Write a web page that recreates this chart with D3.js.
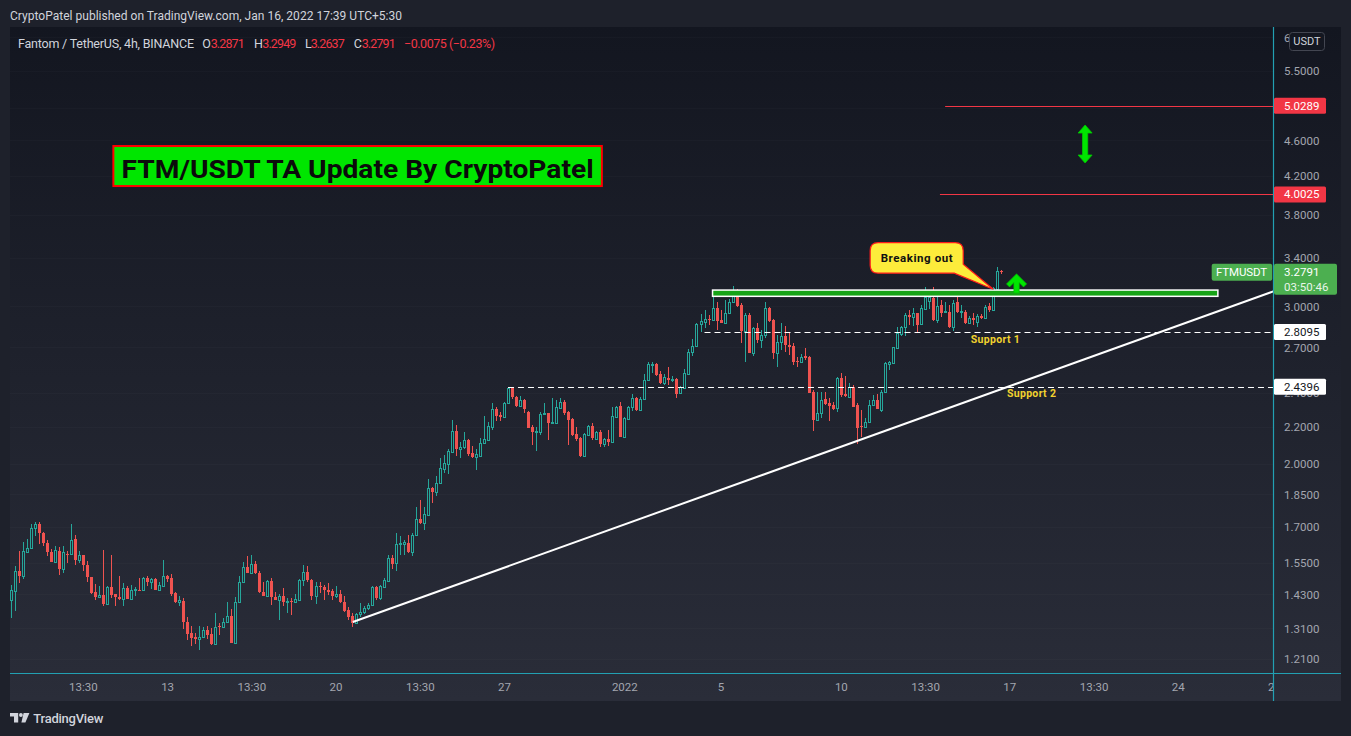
<!DOCTYPE html>
<html><head><meta charset="utf-8">
<script src="https://cdn.jsdelivr.net/npm/d3@7"></script>
<style>
html,body{margin:0;padding:0;background:#1e212b;}
svg{display:block;}
</style></head><body>
<svg id="chart" width="1351" height="736"></svg>
<script>
// ---------------- DATA ----------------
const publishedText = "CryptoPatel published on TradingView.com, Jan 16, 2022 17:39 UTC+5:30";
const symbolText = "Fantom / TetherUS, 4h, BINANCE";
const chartTitle = "FTM/USDT TA Update By CryptoPatel";
const tickerName = "FTMUSDT";
const countdown = "03:50:46";
const changeText = "\u22120.0075 (\u22120.23%)";

const opens = [
1.409,1.440,1.516,1.499,1.594,1.610,1.695,1.714,1.673,1.631,
1.596,1.552,1.599,1.526,1.587,1.587,1.649,1.560,1.583,1.542,
1.495,1.439,1.418,1.428,1.395,1.458,1.430,1.420,1.413,1.453,
1.414,1.444,1.446,1.444,1.490,1.474,1.488,1.446,1.461,1.499,
1.492,1.434,1.403,1.406,1.332,1.294,1.282,1.274,1.280,1.305,
1.291,1.259,1.316,1.313,1.330,1.352,1.261,1.401,1.474,1.534,
1.511,1.546,1.509,1.439,1.424,1.480,1.420,1.409,1.422,1.404,
1.406,1.400,1.409,1.484,1.514,1.484,1.422,1.461,1.456,1.446,
1.440,1.422,1.430,1.401,1.374,1.352,1.328,1.358,1.366,1.380,
1.392,1.455,1.415,1.458,1.481,1.569,1.549,1.627,1.627,1.631,
1.596,1.666,1.734,1.719,1.754,1.881,1.862,1.903,1.974,2.000,
2.064,2.176,2.078,2.087,2.127,2.055,2.038,2.041,2.109,2.127,
2.201,2.301,2.268,2.258,2.339,2.429,2.378,2.321,2.357,2.285,
2.199,2.173,2.173,2.274,2.278,2.224,2.224,2.311,2.347,2.285,
2.245,2.159,2.136,2.041,2.157,2.205,2.134,2.171,2.105,2.132,
2.116,2.258,2.321,2.145,2.247,2.313,2.368,2.299,2.361,2.482,
2.580,2.586,2.521,2.461,2.493,2.482,2.489,2.402,2.430,2.521,
2.666,2.710,2.867,2.885,2.904,2.899,2.985,2.897,2.877,2.947,
3.037,3.125,3.011,2.816,2.935,2.659,2.835,2.752,2.787,2.985,
2.897,2.664,2.740,2.780,2.714,2.707,2.609,2.598,2.641,2.632,
2.406,2.239,2.282,2.361,2.337,2.327,2.307,2.497,2.394,2.378,
2.440,2.327,2.207,2.197,2.226,2.327,2.357,2.297,2.404,2.585,
2.596,2.694,2.794,2.843,2.935,2.917,2.947,2.865,2.980,3.040,
3.064,2.897,3.011,2.957,2.960,2.843,3.037,2.960,2.960,2.877,
2.910,2.880,2.930,2.915,3.003,2.973,3.135,3.2871];

const highs = [
1.465,1.536,1.599,1.634,1.648,1.714,1.723,1.723,1.680,1.645,
1.607,1.617,1.616,1.617,1.600,1.714,1.666,1.597,1.583,1.556,
1.495,1.469,1.461,1.603,1.461,1.583,1.430,1.499,1.471,1.461,
1.465,1.456,1.492,1.493,1.499,1.490,1.489,1.477,1.562,1.502,
1.507,1.437,1.422,1.415,1.350,1.318,1.293,1.316,1.314,1.318,
1.310,1.362,1.328,1.345,1.401,1.376,1.419,1.499,1.555,1.576,
1.582,1.559,1.516,1.476,1.484,1.490,1.439,1.430,1.454,1.415,
1.415,1.432,1.487,1.542,1.538,1.487,1.475,1.477,1.464,1.471,
1.449,1.461,1.446,1.422,1.384,1.362,1.362,1.398,1.388,1.398,
1.460,1.460,1.465,1.491,1.583,1.583,1.673,1.663,1.642,1.666,
1.673,1.789,1.823,1.789,1.923,1.886,1.939,2.029,2.045,2.080,
2.239,2.210,2.118,2.173,2.132,2.094,2.078,2.136,2.262,2.229,
2.341,2.313,2.287,2.347,2.4396,2.440,2.384,2.382,2.361,2.289,
2.210,2.197,2.284,2.337,2.282,2.370,2.357,2.368,2.357,2.291,
2.248,2.199,2.141,2.163,2.210,2.220,2.176,2.182,2.140,2.182,
2.313,2.323,2.345,2.258,2.321,2.394,2.376,2.374,2.521,2.600,
2.600,2.590,2.540,2.521,2.565,2.508,2.493,2.444,2.552,2.687,
2.757,2.872,2.942,2.973,2.935,3.077,3.034,2.973,3.050,3.055,
3.163,3.135,3.024,2.947,2.952,2.843,2.877,2.823,3.034,2.993,
2.902,2.787,2.872,2.853,2.799,2.728,2.636,2.654,2.694,2.641,
2.419,2.408,2.404,2.408,2.368,2.347,2.504,2.530,2.508,2.465,
2.450,2.337,2.297,2.252,2.357,2.388,2.394,2.419,2.602,2.605,
2.705,2.843,2.855,2.947,2.973,2.985,2.952,3.011,3.151,3.130,
3.151,3.090,3.050,3.037,3.011,3.050,3.077,3.011,2.973,2.927,
2.952,2.940,2.945,3.011,3.024,3.157,3.323,3.2949];

const lows = [
1.345,1.368,1.471,1.487,1.590,1.610,1.659,1.627,1.617,1.576,
1.552,1.549,1.504,1.511,1.549,1.583,1.542,1.549,1.516,1.474,
1.430,1.407,1.418,1.388,1.392,1.416,1.386,1.409,1.386,1.412,
1.409,1.422,1.441,1.443,1.461,1.449,1.444,1.444,1.459,1.474,
1.424,1.398,1.388,1.309,1.272,1.250,1.259,1.239,1.277,1.274,
1.256,1.259,1.288,1.310,1.328,1.261,1.259,1.400,1.471,1.509,
1.509,1.506,1.434,1.422,1.422,1.392,1.407,1.337,1.388,1.364,
1.356,1.398,1.407,1.461,1.477,1.409,1.393,1.436,1.409,1.427,
1.407,1.415,1.398,1.365,1.337,1.313,1.326,1.350,1.360,1.374,
1.388,1.409,1.409,1.452,1.477,1.525,1.519,1.583,1.580,1.589,
1.576,1.663,1.713,1.685,1.751,1.807,1.839,1.899,1.952,1.949,
2.059,2.041,2.032,2.078,2.041,2.029,1.969,2.034,2.105,2.123,
2.182,2.235,2.235,2.248,2.335,2.365,2.317,2.313,2.278,2.192,
2.100,2.070,2.154,2.268,2.127,2.220,2.218,2.305,2.268,2.100,
2.150,2.123,2.038,2.041,2.154,2.127,2.130,2.087,2.089,2.096,
2.112,2.254,2.145,2.143,2.243,2.293,2.293,2.297,2.357,2.478,
2.525,2.510,2.455,2.450,2.450,2.472,2.372,2.398,2.426,2.517,
2.641,2.705,2.8095,2.836,2.860,2.897,2.823,2.877,2.872,2.940,
3.032,2.998,2.733,2.603,2.659,2.643,2.733,2.694,2.764,2.885,
2.621,2.569,2.682,2.670,2.648,2.580,2.569,2.596,2.614,2.398,
2.178,2.235,2.248,2.327,2.235,2.297,2.287,2.378,2.378,2.374,
2.313,2.105,2.145,2.193,2.222,2.321,2.301,2.287,2.398,2.550,
2.591,2.690,2.780,2.782,2.860,2.853,2.799,2.860,2.973,2.980,
2.892,2.872,2.922,2.952,2.836,2.816,2.947,2.910,2.867,2.867,
2.860,2.843,2.905,2.905,2.960,2.968,3.130,3.2637];

const closes = [
1.446,1.516,1.499,1.599,1.610,1.695,1.714,1.673,1.631,1.592,
1.552,1.603,1.526,1.592,1.584,1.644,1.560,1.583,1.542,1.494,
1.436,1.418,1.427,1.395,1.458,1.428,1.418,1.413,1.453,1.413,
1.444,1.449,1.444,1.490,1.476,1.488,1.446,1.465,1.499,1.487,
1.432,1.402,1.407,1.330,1.291,1.279,1.274,1.280,1.305,1.288,
1.259,1.314,1.314,1.331,1.351,1.261,1.401,1.476,1.534,1.511,
1.545,1.509,1.439,1.424,1.480,1.419,1.409,1.422,1.400,1.406,
1.400,1.412,1.484,1.513,1.482,1.422,1.461,1.455,1.444,1.439,
1.422,1.430,1.400,1.370,1.350,1.328,1.358,1.366,1.380,1.392,
1.455,1.415,1.461,1.484,1.569,1.546,1.628,1.631,1.634,1.595,
1.666,1.734,1.719,1.758,1.878,1.862,1.906,1.977,2.003,2.067,
2.176,2.078,2.087,2.127,2.052,2.034,2.050,2.109,2.132,2.205,
2.301,2.262,2.258,2.339,2.429,2.373,2.321,2.355,2.301,2.195,
2.171,2.176,2.276,2.282,2.224,2.229,2.317,2.347,2.278,2.239,
2.154,2.134,2.041,2.159,2.205,2.136,2.171,2.104,2.132,2.116,
2.262,2.317,2.145,2.250,2.313,2.368,2.299,2.363,2.482,2.586,
2.586,2.514,2.461,2.500,2.482,2.489,2.394,2.436,2.525,2.666,
2.710,2.867,2.892,2.902,2.899,2.985,2.892,2.877,2.947,3.037,
3.117,3.003,2.816,2.935,2.659,2.835,2.752,2.787,2.985,2.892,
2.664,2.740,2.780,2.714,2.705,2.603,2.598,2.636,2.630,2.402,
2.239,2.282,2.357,2.333,2.321,2.305,2.497,2.388,2.384,2.440,
2.317,2.195,2.197,2.229,2.327,2.357,2.305,2.408,2.591,2.598,
2.705,2.799,2.843,2.935,2.917,2.947,2.860,2.985,3.077,3.070,
2.897,3.003,2.952,2.965,2.843,3.029,2.960,2.965,2.877,2.910,
2.897,2.930,2.915,2.998,2.973,3.143,3.284,3.2791];

const firstCandleUTC = Date.UTC(2021, 11, 6, 8, 0);   // first 4h bar (UTC)
const barHours = 4;

const priceTicks = [6.0, 5.5, 5.0, 4.6, 4.2, 3.8, 3.4, 3.0, 2.7, 2.4, 2.2, 2.0, 1.85, 1.7, 1.55, 1.43, 1.31, 1.21];
const timeTickBars   = [18, 39, 60, 81, 102, 123, 153, 177, 207, 228, 249, 270, 291, 315];
const timeTickLabels = ["13:30","13","13:30","20","13:30","27","2022","5","10","13:30","17","13:30","24","28"];

// drawings (anchored in bar index / price)
const targetLevels  = [5.0289, 4.0025];
const targetStarts  = [233, 231.7];
const supportLevels = [2.8095, 2.4396];
const supportStarts = [173, 124];
const supportNames  = ["Support 1", "Support 2"];
const supportLabelBars   = [239.4, 248.4];
const supportLabelPrices = [2.727, 2.373];
const trendBars   = [85.3, 330];
const trendPrices = [1.331, 3.2985];
const zoneBars   = [175, 301];
const zonePrices = [3.079, 3.129];
const titleBars   = [25.6, 147.4];
const titlePrices = [4.534, 4.090];
const calloutBars   = [214.3, 237.5];
const calloutPrices = [3.535, 3.268];
const calloutTip    = [245, 3.135];
const upArrowAt     = [250.8, 3.262];
const doubleArrowBar = 267.9;
const doubleArrowPrices = [4.786, 4.340];

// ---------------- CHART ----------------
const W = 1351, H = 736;
const pane = {left: 10, right: 1341, top: 27, bottom: 701};
const plot = {left: 10, right: 1273, top: 27, bottom: 673};
const barMs = barHours * 3600 * 1000;
const n = opens.length;
const barTime = b => new Date(firstCandleUTC + b * barMs);
const candles = opens.map((o, i) => ({t: barTime(i), o, h: highs[i], l: lows[i], c: closes[i]}));

const x = d3.scaleUtc().domain([barTime(0), barTime(n - 1)]).range([10.7, 1001.3]);
const y = d3.scaleLog().domain([1.1673, 6.16]).range([plot.bottom, plot.top]);
const xb = b => x(barTime(b));

const svg = d3.select("#chart");
const defs = svg.append("defs");
const grad = defs.append("linearGradient").attr("id", "paneGrad")
  .attr("x1", 0).attr("y1", 0).attr("x2", 0).attr("y2", 1);
grad.append("stop").attr("offset", "0%").attr("stop-color", "#131620");
grad.append("stop").attr("offset", "100%").attr("stop-color", "#2a2d39");
defs.append("clipPath").attr("id", "plotClip").append("rect")
  .attr("x", plot.left).attr("y", plot.top)
  .attr("width", plot.right - plot.left).attr("height", plot.bottom - plot.top);
defs.append("clipPath").attr("id", "xClip").append("rect")
  .attr("x", plot.left).attr("y", plot.bottom)
  .attr("width", plot.right - plot.left).attr("height", pane.bottom - plot.bottom);

svg.append("rect").attr("width", W).attr("height", H).attr("fill", "#1e212b");
svg.append("rect").attr("x", pane.left).attr("y", pane.top)
  .attr("width", pane.right - pane.left).attr("height", pane.bottom - pane.top)
  .attr("fill", "url(#paneGrad)");

// header
svg.append("text").attr("x", 10).attr("y", 19.5).text(publishedText)
  .attr("fill", "#d1d4dc").style("font", "12px Roboto").attr("textLength", 392);

// grid
svg.append("g").selectAll("line").data(priceTicks).join("line")
  .attr("x1", plot.left).attr("x2", plot.right)
  .attr("y1", d => Math.round(y(d)) + 0.5).attr("y2", d => Math.round(y(d)) + 0.5)
  .attr("stroke", "#ffffff").attr("stroke-opacity", 0.018);

// legend
const lg = svg.append("g").style("font", "12.5px Roboto");
lg.append("text").attr("x", 18).attr("y", 47.5).attr("fill", "#d1d4dc").attr("textLength", 176).text(symbolText);
const ohlcLegend = [["O", opens[n-1], 202.3, 210.7], ["H", highs[n-1], 254, 262.3], ["L", lows[n-1], 305, 310.7], ["C", closes[n-1], 353.7, 361.7]];
ohlcLegend.forEach(([k, v, kx, vx]) => {
  lg.append("text").attr("x", kx).attr("y", 47.5).attr("fill", "#d1d4dc").text(k);
  lg.append("text").attr("x", vx).attr("y", 47.5).attr("fill", "#f23645").attr("textLength", 34).text(v.toFixed(4));
});
lg.append("text").attr("x", 404).attr("y", 47.5).attr("fill", "#f23645").attr("textLength", 91).text(changeText);

// candles
const cg = svg.append("g").attr("clip-path", "url(#plotClip)");
const up = "#26a69a", down = "#ef5350";
candles.forEach(d => {
  const cx = Math.round(x(d.t)) + 0.5;
  const yh = Math.round(y(d.h)), yl = Math.round(y(d.l));
  const yo = Math.round(y(d.o)), yc = Math.round(y(d.c));
  if (d.c >= d.o) {
    const top = yc + 0.5, bot = Math.max(yo, yc + 1) + 0.5;
    cg.append("line").attr("x1", cx).attr("x2", cx).attr("y1", yh).attr("y2", top).attr("stroke", up);
    cg.append("line").attr("x1", cx).attr("x2", cx).attr("y1", bot).attr("y2", yl).attr("stroke", up);
    cg.append("rect").attr("x", cx - 1).attr("y", top).attr("width", 2).attr("height", bot - top)
      .attr("fill", "none").attr("stroke", up).attr("stroke-width", 1);
  } else {
    cg.append("line").attr("x1", cx).attr("x2", cx).attr("y1", yh).attr("y2", yl).attr("stroke", down);
    cg.append("rect").attr("x", cx - 1.5).attr("y", yo).attr("width", 3).attr("height", Math.max(1, yc - yo))
      .attr("fill", down);
  }
});

// drawings
const dg = svg.append("g").attr("clip-path", "url(#plotClip)");
// title
const tx0 = xb(titleBars[0]), tx1 = xb(titleBars[1]), ty0 = y(titlePrices[0]), ty1 = y(titlePrices[1]);
dg.append("rect").attr("x", tx0).attr("y", ty0).attr("width", tx1 - tx0).attr("height", ty1 - ty0)
  .attr("fill", "#00e600").attr("stroke", "#ff0000").attr("stroke-width", 2);
dg.append("text").attr("x", (tx0 + tx1) / 2).attr("y", ty0 + 31.5).attr("text-anchor", "middle")
  .attr("fill", "#0b0b0b").style("font", "bold 26.5px Roboto").attr("textLength", 472)
  .attr("lengthAdjust", "spacingAndGlyphs").text(chartTitle);
// target lines
targetLevels.forEach((p, i) => {
  const yy = Math.round(y(p)) + 0.5;
  dg.append("line").attr("x1", xb(targetStarts[i])).attr("x2", plot.right).attr("y1", yy).attr("y2", yy)
    .attr("stroke", "#f23645").attr("stroke-width", 1);
});
// support dashed lines
supportLevels.forEach((p, i) => {
  const yy = Math.round(y(p)) + 0.5;
  dg.append("line").attr("x1", xb(supportStarts[i])).attr("x2", plot.right).attr("y1", yy).attr("y2", yy)
    .attr("stroke", "#ffffff").attr("stroke-width", 1).attr("stroke-dasharray", "6,4");
  dg.append("text").attr("x", xb(supportLabelBars[i])).attr("y", y(supportLabelPrices[i]))
    .attr("fill", "#f2d22e").style("font", "bold 10.5px Roboto").attr("textLength", 49).text(supportNames[i]);
});
// trendline
dg.append("line").attr("x1", xb(trendBars[0])).attr("y1", y(trendPrices[0]))
  .attr("x2", xb(trendBars[1])).attr("y2", y(trendPrices[1]))
  .attr("stroke", "#ffffff").attr("stroke-width", 2);
// resistance zone
const zx0 = xb(zoneBars[0]), zx1 = xb(zoneBars[1]);
dg.append("rect").attr("x", zx0).attr("y", y(zonePrices[1])).attr("width", zx1 - zx0)
  .attr("height", y(zonePrices[0]) - y(zonePrices[1]))
  .attr("fill", "#17a317").attr("stroke", "#ffffff").attr("stroke-width", 1.5);
// up arrow
{
  const ax = xb(upArrowAt[0]), ay = y(upArrowAt[1]);
  const pts = [[0,0],[10,10],[7,13],[2.6,8.6],[2.6,19],[-2.6,19],[-2.6,8.6],[-7,13],[-10,10]];
  dg.append("polygon").attr("points", pts.map(p => [ax + p[0], ay + p[1]].join(",")).join(" "))
    .attr("fill", "#00e600").attr("stroke", "#00c800").attr("stroke-width", 0.8).attr("stroke-linejoin", "round");
}
// double arrow
{
  const ax = xb(doubleArrowBar), a0 = y(doubleArrowPrices[0]), a1 = y(doubleArrowPrices[1]);
  const h = a1 - a0;
  const pts = [[0,0],[7,8],[2.6,8],[2.6,h-8],[7,h-8],[0,h],[-7,h-8],[-2.6,h-8],[-2.6,8],[-7,8]];
  dg.append("polygon").attr("points", pts.map(p => [ax + p[0], a0 + p[1]].join(",")).join(" "))
    .attr("fill", "#00e600").attr("stroke", "#00c800").attr("stroke-width", 0.8).attr("stroke-linejoin", "round");
}
// callout
{
  const x0 = xb(calloutBars[0]), x1 = xb(calloutBars[1]);
  const y0 = y(calloutPrices[0]), y1 = y(calloutPrices[1]);
  const tipX = xb(calloutTip[0]), tipY = y(calloutTip[1]);
  const r = 8;
  const path = `M${x0 + r},${y0} H${x1 - r} Q${x1},${y0} ${x1},${y0 + r} V${y1 - 9} L${tipX},${tipY} L${x1 - 9},${y1} H${x0 + r} Q${x0},${y1} ${x0},${y1 - r} V${y0 + r} Q${x0},${y0} ${x0 + r},${y0} Z`;
  dg.append("path").attr("d", path).attr("fill", "#fdec3b").attr("stroke", "#ff1a1a").attr("stroke-width", 1.2);
  dg.append("text").attr("x", (x0 + x1) / 2).attr("y", (y0 + y1) / 2 + 4.2).attr("text-anchor", "middle")
    .attr("fill", "#111111").style("font", "bold 11.5px Roboto").attr("textLength", 72).text("Breaking out");
}

// axes
const yAxis = d3.axisRight(y).tickValues(priceTicks).tickFormat(d3.format(".4f")).tickSize(0).tickPadding(11);
const gy = svg.append("g").attr("transform", `translate(${plot.right},0)`).call(yAxis);
gy.select(".domain").remove();
gy.attr("font-family", "Roboto").attr("font-size", 11.5);
gy.selectAll("text").attr("fill", "#a3a6af").attr("dy", "0.34em");

const tickDates = timeTickBars.map(barTime);
const xAxis = d3.axisBottom(x).tickValues(tickDates).tickFormat((d, i) => timeTickLabels[i]).tickSize(0).tickPadding(10);
const xClipG = svg.append("g").attr("clip-path", "url(#xClip)");
const gx = xClipG.append("g").attr("transform", `translate(0,${plot.bottom})`).call(xAxis);
gx.select(".domain").remove();
gx.attr("font-family", "Roboto").attr("font-size", 11.5);
gx.selectAll("text").attr("fill", "#a3a6af");

// separators
svg.append("line").attr("x1", plot.right + 0.5).attr("x2", plot.right + 0.5).attr("y1", pane.top).attr("y2", pane.bottom)
  .attr("stroke", "#22a0b2").attr("stroke-width", 1.2);
svg.append("line").attr("x1", pane.left).attr("x2", pane.right).attr("y1", plot.bottom + 0.5).attr("y2", plot.bottom + 0.5)
  .attr("stroke", "#22a0b2").attr("stroke-width", 1.2);

// axis price labels
const axisLabels = [
  {p: targetLevels[0], bg: "#f23645", fg: "#ffffff"},
  {p: targetLevels[1], bg: "#f23645", fg: "#ffffff"},
  {p: supportLevels[0], bg: "#ffffff", fg: "#131722"},
  {p: supportLevels[1], bg: "#ffffff", fg: "#131722"}
];
const al = svg.append("g").style("font", "11.5px Roboto");
axisLabels.forEach(d => {
  const yy = y(d.p);
  al.append("rect").attr("x", plot.right + 1).attr("y", yy - 8).attr("width", 52).attr("height", 16)
    .attr("rx", 1.5).attr("fill", d.bg);
  al.append("text").attr("x", plot.right + 11).attr("y", yy).attr("dy", "0.35em").attr("fill", d.fg).text(d.p.toFixed(4));
});
// last price label
{
  const last = closes[n - 1], yy = y(last);
  al.append("rect").attr("x", plot.right + 1).attr("y", yy - 8).attr("width", 63).attr("height", 31)
    .attr("rx", 2).attr("fill", "#4caf50");
  al.append("text").attr("x", plot.right + 11).attr("y", yy).attr("dy", "0.35em").attr("fill", "#ffffff").text(last.toFixed(4));
  al.append("text").attr("x", plot.right + 11).attr("y", yy + 15).attr("dy", "0.35em").attr("fill", "#e8f5e9").text(countdown);
  al.append("rect").attr("x", 1211.7).attr("y", yy - 8).attr("width", 60.5).attr("height", 17)
    .attr("rx", 2).attr("fill", "#4caf50");
  al.append("text").attr("x", 1216).attr("y", yy + 0.5).attr("dy", "0.35em").attr("fill", "#ffffff")
    .attr("textLength", 51).text(tickerName);
}
// currency badge
svg.append("rect").attr("x", 1289.5).attr("y", 32.5).attr("width", 35).attr("height", 18).attr("rx", 3)
  .attr("fill", "#141721").attr("stroke", "#434651");
svg.append("text").attr("x", 1307).attr("y", 41.5).attr("dy", "0.35em").attr("text-anchor", "middle")
  .attr("fill", "#d1d4dc").style("font", "11px Roboto").text("USDT");

// footer logo
const fg = svg.append("g").attr("fill", "#d1d4dc");
fg.append("path").attr("d", "M10,713 H18.2 V722.6 H14 V716.6 H10 Z");
fg.append("circle").attr("cx", 20.9).attr("cy", 715).attr("r", 1.9);
fg.append("path").attr("d", "M23.6,713 H29.4 L25.4,722.6 H21.4 Z");
fg.append("text").attr("x", 33.3).attr("y", 722.6).style("font", "500 13px Roboto").attr("textLength", 70).text("TradingView");
</script>
</body></html>
